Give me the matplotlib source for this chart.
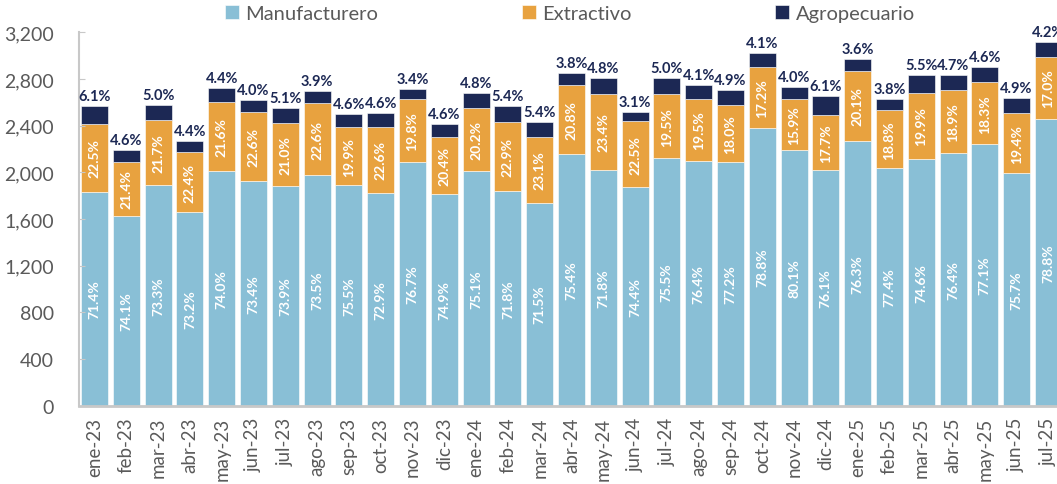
import matplotlib
matplotlib.use('Agg')
import matplotlib.pyplot as plt
import numpy as np

plt.rcParams['font.family'] = ['Lato', 'DejaVu Sans']

# datos
meses = ['ene-23', 'feb-23', 'mar-23', 'abr-23', 'may-23', 'jun-23', 'jul-23', 'ago-23',
         'sep-23', 'oct-23', 'nov-23', 'dic-23', 'ene-24', 'feb-24', 'mar-24', 'abr-24',
         'may-24', 'jun-24', 'jul-24', 'ago-24', 'sep-24', 'oct-24', 'nov-24', 'dic-24',
         'ene-25', 'feb-25', 'mar-25', 'abr-25', 'may-25', 'jun-25', 'jul-25']
total = [2570, 2190, 2580, 2270, 2720, 2620, 2550, 2695, 2500, 2505, 2720, 2420,
         2675, 2565, 2435, 2855, 2810, 2515, 2810, 2745, 2705, 3020, 2735, 2655,
         2975, 2630, 2835, 2835, 2905, 2635, 3120]
manuf_pct = [71.4, 74.1, 73.3, 73.2, 74.0, 73.4, 73.9, 73.5, 75.5, 72.9, 76.7, 74.9,
             75.1, 71.8, 71.5, 75.4, 71.8, 74.4, 75.5, 76.4, 77.2, 78.8, 80.1, 76.1,
             76.3, 77.4, 74.6, 76.4, 77.1, 75.7, 78.8]
extr_pct = [22.5, 21.4, 21.7, 22.4, 21.6, 22.6, 21.0, 22.6, 19.9, 22.6, 19.8, 20.4,
            20.2, 22.9, 23.1, 20.8, 23.4, 22.5, 19.5, 19.5, 18.0, 17.2, 15.9, 17.7,
            20.1, 18.8, 19.9, 18.9, 18.3, 19.4, 17.0]
agro_pct = [6.1, 4.6, 5.0, 4.4, 4.4, 4.0, 5.1, 3.9, 4.6, 4.6, 3.4, 4.6,
            4.8, 5.4, 5.4, 3.8, 4.8, 3.1, 5.0, 4.1, 4.9, 4.1, 4.0, 6.1,
            3.6, 3.8, 5.5, 4.7, 4.6, 4.9, 4.2]

c_man = '#89BFD6'
c_ext = '#E8A23F'
c_agr = '#1C2854'
gris = '#5A5A5A'

tot = np.array(total, dtype=float)
man = tot * np.array(manuf_pct) / 100
ext = tot * np.array(extr_pct) / 100
agr = tot * np.array(agro_pct) / 100
x = np.arange(len(meses))

fig = plt.figure(figsize=(10.57, 4.85), dpi=100)
ax = fig.add_axes([0.0747, 0.1614, 0.9253, 0.77])

w = 0.85
b1 = ax.bar(x, man, w, color=c_man, edgecolor='white', linewidth=0.4, label='Manufacturero')
b2 = ax.bar(x, ext, w, bottom=man, color=c_ext, edgecolor='white', linewidth=0.4, label='Extractivo')
b3 = ax.bar(x, agr, w, bottom=man + ext, color=c_agr, edgecolor='white', linewidth=0.4, label='Agropecuario')

# etiquetas de porcentaje
for i in range(len(x)):
    ax.text(x[i], man[i] / 2, '%.1f%%' % manuf_pct[i], rotation=90, ha='center', va='center',
            color='white', fontsize=10, fontweight='bold')
    ax.text(x[i], man[i] + ext[i] / 2, '%.1f%%' % extr_pct[i], rotation=90, ha='center', va='center',
            color='white', fontsize=10, fontweight='bold')
    ax.text(x[i], man[i] + ext[i] + agr[i] + 25, '%.1f%%' % agro_pct[i], ha='center', va='bottom',
            color=c_agr, fontsize=10.5, fontweight='bold')

ax.set_xlim(-0.49, 30.27)
ax.set_ylim(0, 3200)
ax.set_yticks(np.arange(0, 3201, 400))
ax.set_yticklabels(['{:,}'.format(v) for v in range(0, 3201, 400)])
ax.set_xticks(x)
ax.set_xticklabels(meses, rotation=90)

for s in ['top', 'right']:
    ax.spines[s].set_visible(False)
ax.spines['left'].set_color('#C8C8C8')
ax.spines['bottom'].set_color('#C8C8C8')
ax.spines['left'].set_linewidth(1.5)
ax.spines['bottom'].set_linewidth(2)
ax.tick_params(axis='y', direction='in', length=4, color='#C8C8C8', labelsize=14, labelcolor=gris, pad=18)
ax.tick_params(axis='x', length=0, labelsize=13.5, labelcolor=gris, pad=8)

fig.legend(handles=[b1, b2, b3], loc='upper center', bbox_to_anchor=(0.539, 1.025), ncol=3,
           frameon=False, labelcolor=gris, handlelength=0.7, handleheight=0.7,
           handletextpad=0.3, columnspacing=7.15, prop={'size': 14.5})

fig.savefig('out.png', dpi=100)
